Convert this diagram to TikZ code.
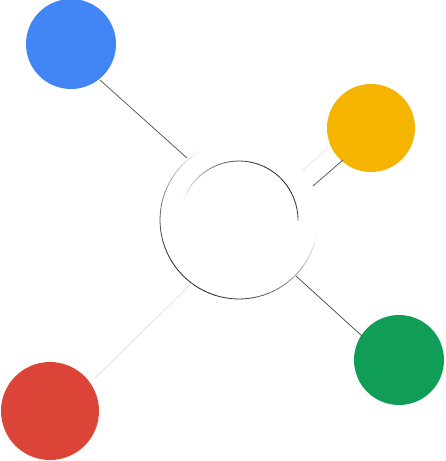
\documentclass[tikz,border=0pt]{standalone}
\usetikzlibrary{calc}
\definecolor{gblue}{HTML}{4285F4}
\definecolor{gyellow}{HTML}{F4B400}
\definecolor{ggreen}{HTML}{0F9D58}
\definecolor{gred}{HTML}{DB4437}
\tikzset{
  dot/.style={circle,inner sep=0pt,minimum size=#1,draw=none},
  link/.style={line width=0.7pt},
}
\begin{document}
\begin{tikzpicture}[x=1pt,y=-1pt]
\useasboundingbox[fill=white] (0,0) rectangle (445,461);
\node[dot=162pt] (c) at (239,220) {};
\node[dot=90pt,fill=gblue] (blue) at (71,44) {};
\node[dot=88pt,fill=gyellow] (yellow) at (371,128) {};
\node[dot=90pt,fill=ggreen] (green) at (399,360) {};
\node[dot=98pt,fill=gred] (red) at (50,411) {};
% connector end points
\coordinate (b1) at (100,80);  \coordinate (b2) at (187,158);
\coordinate (y1) at (343,160); \coordinate (y2) at (313,186);
\coordinate (y3) at (328,148); \coordinate (y4) at (302,171);
\coordinate (g1) at (362,336); \coordinate (g2) at (296,276);
\coordinate (r1) at (95,378);  \coordinate (r2) at (190,285);
% outer ring, darker at lower left
\foreach \a in {0,4,...,356}{
  \pgfmathsetmacro{\t}{max(0,cos((\a+2-125)/1.3))*85}
  \draw[line width=0.8pt,color=black!\t!white] ($(c)+(\a:79)$) arc[start angle=\a,end angle=\a+4.3,radius=79];
}
% inner ring, darker at upper right
\foreach \a in {0,4,...,356}{
  \pgfmathsetmacro{\t}{max(0,cos((\a+2-315)/1.3))*85}
  \draw[line width=0.8pt,color=black!\t!white] ($(c)+(\a:59)$) arc[start angle=\a,end angle=\a+4.3,radius=59];
}
\draw[link,black!70] (b1) -- (b2);
\draw[link,black!70] (y1) -- (y2);
\draw[link,black!10] (y3) -- (y4);
\draw[link,black!75] (g1) -- (g2);
\draw[link,black!12] (r1) -- (r2);
\end{tikzpicture}
\end{document}
